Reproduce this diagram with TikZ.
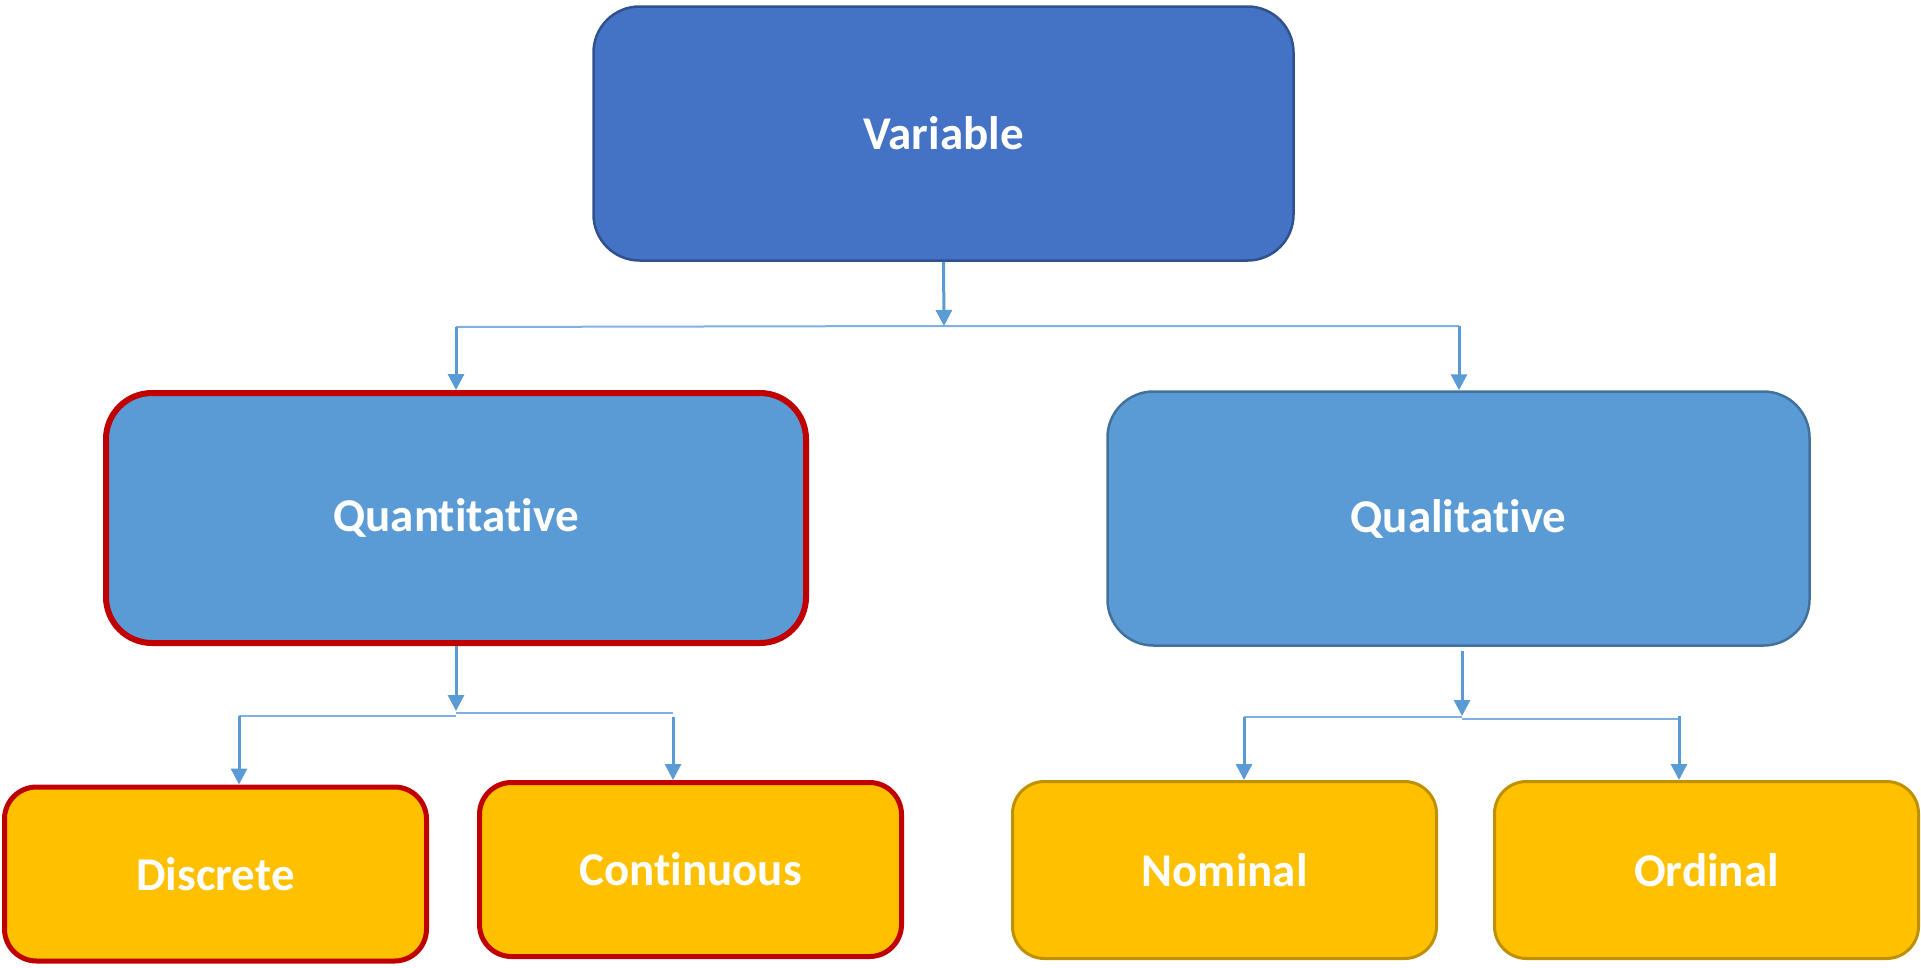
\documentclass[tikz,border=0pt]{standalone}
\usepackage{fontspec}
\setmainfont{Carlito}[RawFeature={-liga;-clig;-dlig}]
\usetikzlibrary{arrows.meta}
\definecolor{varfill}{HTML}{4472C4}
\definecolor{varline}{HTML}{2F528F}
\definecolor{midfill}{HTML}{5B9BD5}
\definecolor{midline}{HTML}{41719C}
\definecolor{redline}{HTML}{C00000}
\definecolor{yelfill}{HTML}{FFC000}
\definecolor{yelline}{HTML}{BF9000}
\definecolor{conncol}{HTML}{5B9BD5}
\definecolor{hcol}{HTML}{7FB1E0}
\tikzset{
  box/.style={rectangle, inner sep=0pt, text=white,
    font=\bfseries\fontsize{47}{56}\selectfont},
  topbox/.style={box, fill=varfill, draw=varline, line width=2.5pt,
    rounded corners=46pt, minimum width=700pt, minimum height=254pt},
  quantbox/.style={box, fill=midfill, draw=redline, line width=6pt,
    rounded corners=46pt, minimum width=700pt, minimum height=250pt},
  qualbox/.style={box, fill=midfill, draw=midline, line width=2.5pt,
    rounded corners=46pt, minimum width=702pt, minimum height=254pt},
  redleaf/.style={box, fill=yelfill, draw=redline, line width=5pt,
    rounded corners=32pt, minimum width=422pt, minimum height=174pt},
  goldleaf/.style={box, fill=yelfill, draw=yelline, line width=3pt,
    rounded corners=32pt, minimum width=424pt, minimum height=177pt},
  conn/.style={draw=conncol, line width=3pt,
    -{Triangle[length=16pt,width=16pt]}},
  hline/.style={draw=hcol, line width=2pt}
}
\begin{document}
\begin{tikzpicture}[x=1pt,y=-1pt]
\useasboundingbox (0,0) rectangle (1921,967);

\node[topbox]   (var)   at (943.5,133.5) {Variable};
\node[quantbox] (quant) at (456,518)     {Quantitative};
\node[qualbox]  (qual)  at (1458.5,518.5){Qualitative};
\node[redleaf]  (disc)  at (215.5,874)   {Discrete};
\node[redleaf]  (cont)  at (690.5,869.5) {Continuous};
\node[goldleaf] (nom)   at (1224.5,870)  {Nominal};
\node[goldleaf] (ord)   at (1706.5,870)  {Ordinal};

% level 1
\coordinate (j1) at (944,326);
\coordinate (a1) at (456,327);
\coordinate (b1) at (1459,326);
\draw[hline] (a1) -- (j1) -- (b1);
\draw[conn] (var.south) -- (j1);
\draw[conn] (a1) -- (a1 |- quant.north);
\draw[conn] (b1) -- (b1 |- qual.north);

% quantitative branch
\coordinate (j2) at (456,711);
\coordinate (d1) at (239,716);
\coordinate (d0) at (456,716);
\coordinate (c0) at (456,713);
\coordinate (c1) at (673,713);
\coordinate (c2) at (673,717);
\draw[hline] (d1) -- (d0);
\draw[hline] (c0) -- (c1);
\draw[conn] (quant.south) -- (j2);
\draw[conn] (d1) -- (d1 |- disc.north);
\draw[conn] (c2) -- (c2 |- cont.north);

% qualitative branch
\coordinate (q0) at (1462,651);
\coordinate (j3) at (1462,716);
\coordinate (n1) at (1244,717);
\coordinate (n0) at (1462,717);
\coordinate (o0) at (1462,719);
\coordinate (o1) at (1679,719);
\coordinate (o2) at (1679,716);
\draw[hline] (n1) -- (n0);
\draw[hline] (o0) -- (o1);
\draw[conn] (q0) -- (j3);
\draw[conn] (n1) -- (n1 |- nom.north);
\draw[conn] (o2) -- (o2 |- ord.north);
\end{tikzpicture}
\end{document}
